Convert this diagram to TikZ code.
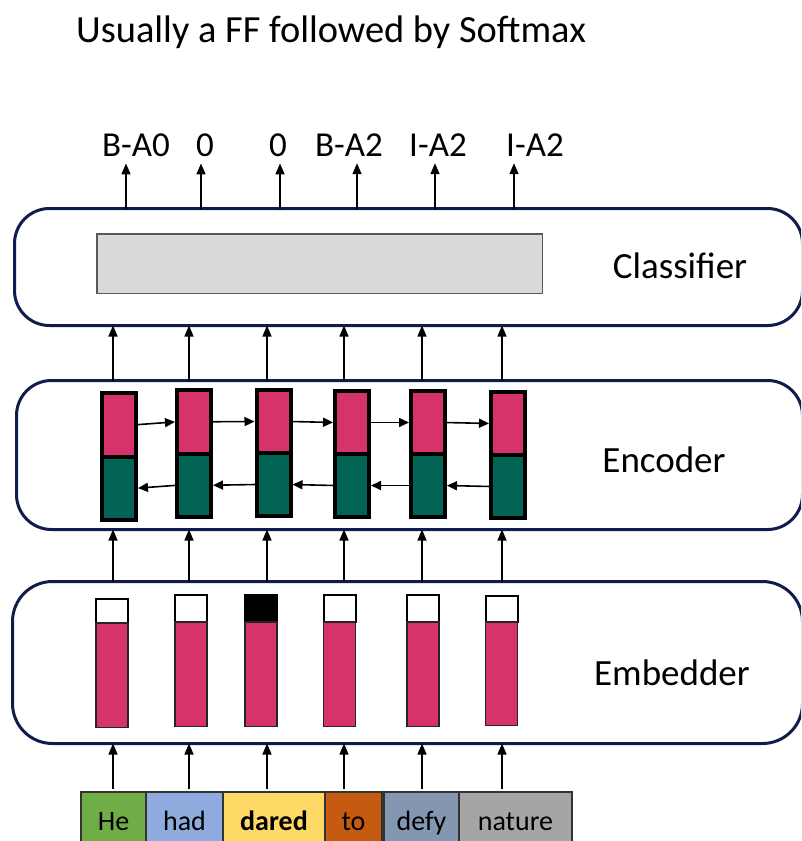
\documentclass[tikz,border=0pt]{standalone}
\usepackage{fontspec}
\setmainfont{Carlito}
\usetikzlibrary{arrows.meta, positioning, calc}

\definecolor{stagenavy}{RGB}{16,28,76}
\definecolor{rnnpink}{RGB}{214,51,108}
\definecolor{rnngreen}{RGB}{0,99,84}
\definecolor{ffgray}{RGB}{217,217,217}
\definecolor{wgreen}{RGB}{112,173,71}
\definecolor{wblue}{RGB}{143,170,220}
\definecolor{wyellow}{RGB}{255,217,102}
\definecolor{worange}{RGB}{197,90,17}
\definecolor{wslate}{RGB}{132,151,176}
\definecolor{wgray}{RGB}{165,165,165}

\begin{document}
\begin{tikzpicture}[x=1pt, y=-1pt,
        stagebox/.style={draw=stagenavy, line width=3pt, rounded corners=35pt, inner sep=0, outer sep=0},
        stagename/.style={font=\fontsize{37}{40}\selectfont, anchor=base, inner sep=0},
        tag/.style={font=\fontsize{35}{38}\selectfont, anchor=base, inner sep=0},
        word/.style={draw=black!80, line width=1.2pt, minimum height=64, anchor=north west, inner sep=0, outer sep=0,
            text height=19pt, text depth=6pt, font=\fontsize{28}{30}\selectfont},
        uparrow/.style={-{Triangle[length=11pt, width=9pt]}, line width=1.4pt},
        sidearrow/.style={-{Triangle[length=10pt, width=9pt]}, line width=1.6pt},
        fwdcell/.style={draw=black, line width=4pt, fill=rnnpink, minimum width=34, inner sep=0, outer sep=0, anchor=north},
        bwdcell/.style={draw=black, line width=4pt, fill=rnngreen, minimum width=34, inner sep=0, outer sep=0, anchor=north},
        slot/.style={draw=black, line width=2pt, minimum width=32, inner sep=0, outer sep=0, anchor=north},
        vecbar/.style={draw=black!85, line width=1.5pt, fill=rnnpink, minimum width=32, inner sep=0, outer sep=0, anchor=north}]

                    \useasboundingbox (0,0) rectangle (801,841);
                    \clip (0,0) rectangle (801,841);

                    \node[inner sep=0, anchor=base west, font=\fontsize{38.4}{42}\selectfont] (title) at (76,42) {Usually a FF followed by Softmax};

                    \node[stagebox, minimum width=788, minimum height=117] (cls) at (408.5,267) {};
                    \node[stagebox, minimum width=786, minimum height=149] (enc) at (409.5,455) {};
                    \node[stagebox, minimum width=790, minimum height=162, rounded corners=40pt] (emb) at (407.5,662.5) {};

                    \node[stagename] (clsname) at (680,278) {Classifier};
                    \node[stagename] (encname) at (664,472) {Encoder};
                    \node[stagename] (embname) at (672,685) {Embedder};

                    \node[draw=black!65, line width=1.5pt, fill=ffgray, minimum width=445.5, minimum height=59.5, inner sep=0] (ff) at (319.5,263.5) {};

                    \foreach \i/\x/\lab in {1/136/B-A0, 2/205/0, 3/278/0, 4/349/B-A2, 5/438/I-A2, 6/535/I-A2}
                        \node[tag] (out\i) at (\x,156) {\lab};

                    \foreach \i/\x in {1/126, 2/201, 3/280, 4/357, 5/435, 6/514}
                    {
                        \coordinate (t\i) at (\x,0);
                        \draw[uparrow, shorten >=7pt] (t\i |- cls.north) -- (t\i |- out\i.south);
                    }

                    \foreach \i/\x/\ya/\yb in {1/119/391/522, 2/194/388/519, 3/273.5/388/518, 4/352/389/519, 5/428/389/519, 6/508/390/520}
                    {
                        \pgfmathsetmacro\ym{(\ya+\yb)/2}
                        \node[fwdcell, minimum height={\ym-\ya-2}] (f\i) at (\x,\ya+2) {};
                        \node[bwdcell, minimum height={\yb-\ym-2}] (g\i) at (\x,\ym) {};
                    }

                    \foreach \i [evaluate=\i as \j using int(\i+1)] in {1,...,5}
                    {
                        \draw[sidearrow, shorten >=2pt] (f\i.east) -- (f\j.west);
                        \draw[sidearrow, shorten >=2pt] (g\j.west) -- (g\i.east);
                    }

                    \foreach \i/\x/\ya/\ym/\yb/\c in {1/112/598/623/728/white, 2/191/594/622/727/white, 3/261/594/622/727/black,
                            4/339.5/594/622/727/white, 5/423/594/622/727/white, 6/501.5/595/622/726/white}
                    {
                        \node[slot, fill=\c, minimum height={\ym-\ya-1}] (s\i) at (\x,\ya+1) {};
                        \node[vecbar, minimum height={\yb-\ym-0.75}] (v\i) at (\x,\ym) {};
                    }

                    \node[word, fill=wgreen, minimum width=65] (he) at (81,792) {He};
                    \node[word, fill=wblue, minimum width=77, right=0pt of he] (had) {had};
                    \node[word, fill=wyellow, minimum width=102, right=0pt of had] (dared) {\textbf{dared}};
                    \node[word, fill=worange, minimum width=57, right=0pt of dared] (to) {to};
                    \node[word, fill=wslate, minimum width=75, right=2pt of to] (defy) {defy};
                    \node[word, fill=wgray, minimum width=113, right=0pt of defy] (nature) {nature};

                    \foreach \i/\x/\w in {1/113/he, 2/189/had, 3/267/dared, 4/344/to, 5/422/defy, 6/502/nature}
                    {
                        \coordinate (k\i) at (\x,0);
                        \draw[uparrow, shorten <=3pt] (k\i |- \w.north) -- (k\i |- emb.south);
                        \draw[uparrow] (k\i |- emb.north) -- (k\i |- enc.south);
                        \draw[uparrow] (k\i |- enc.north) -- (k\i |- cls.south);
                    }
\end{tikzpicture}
\end{document}
